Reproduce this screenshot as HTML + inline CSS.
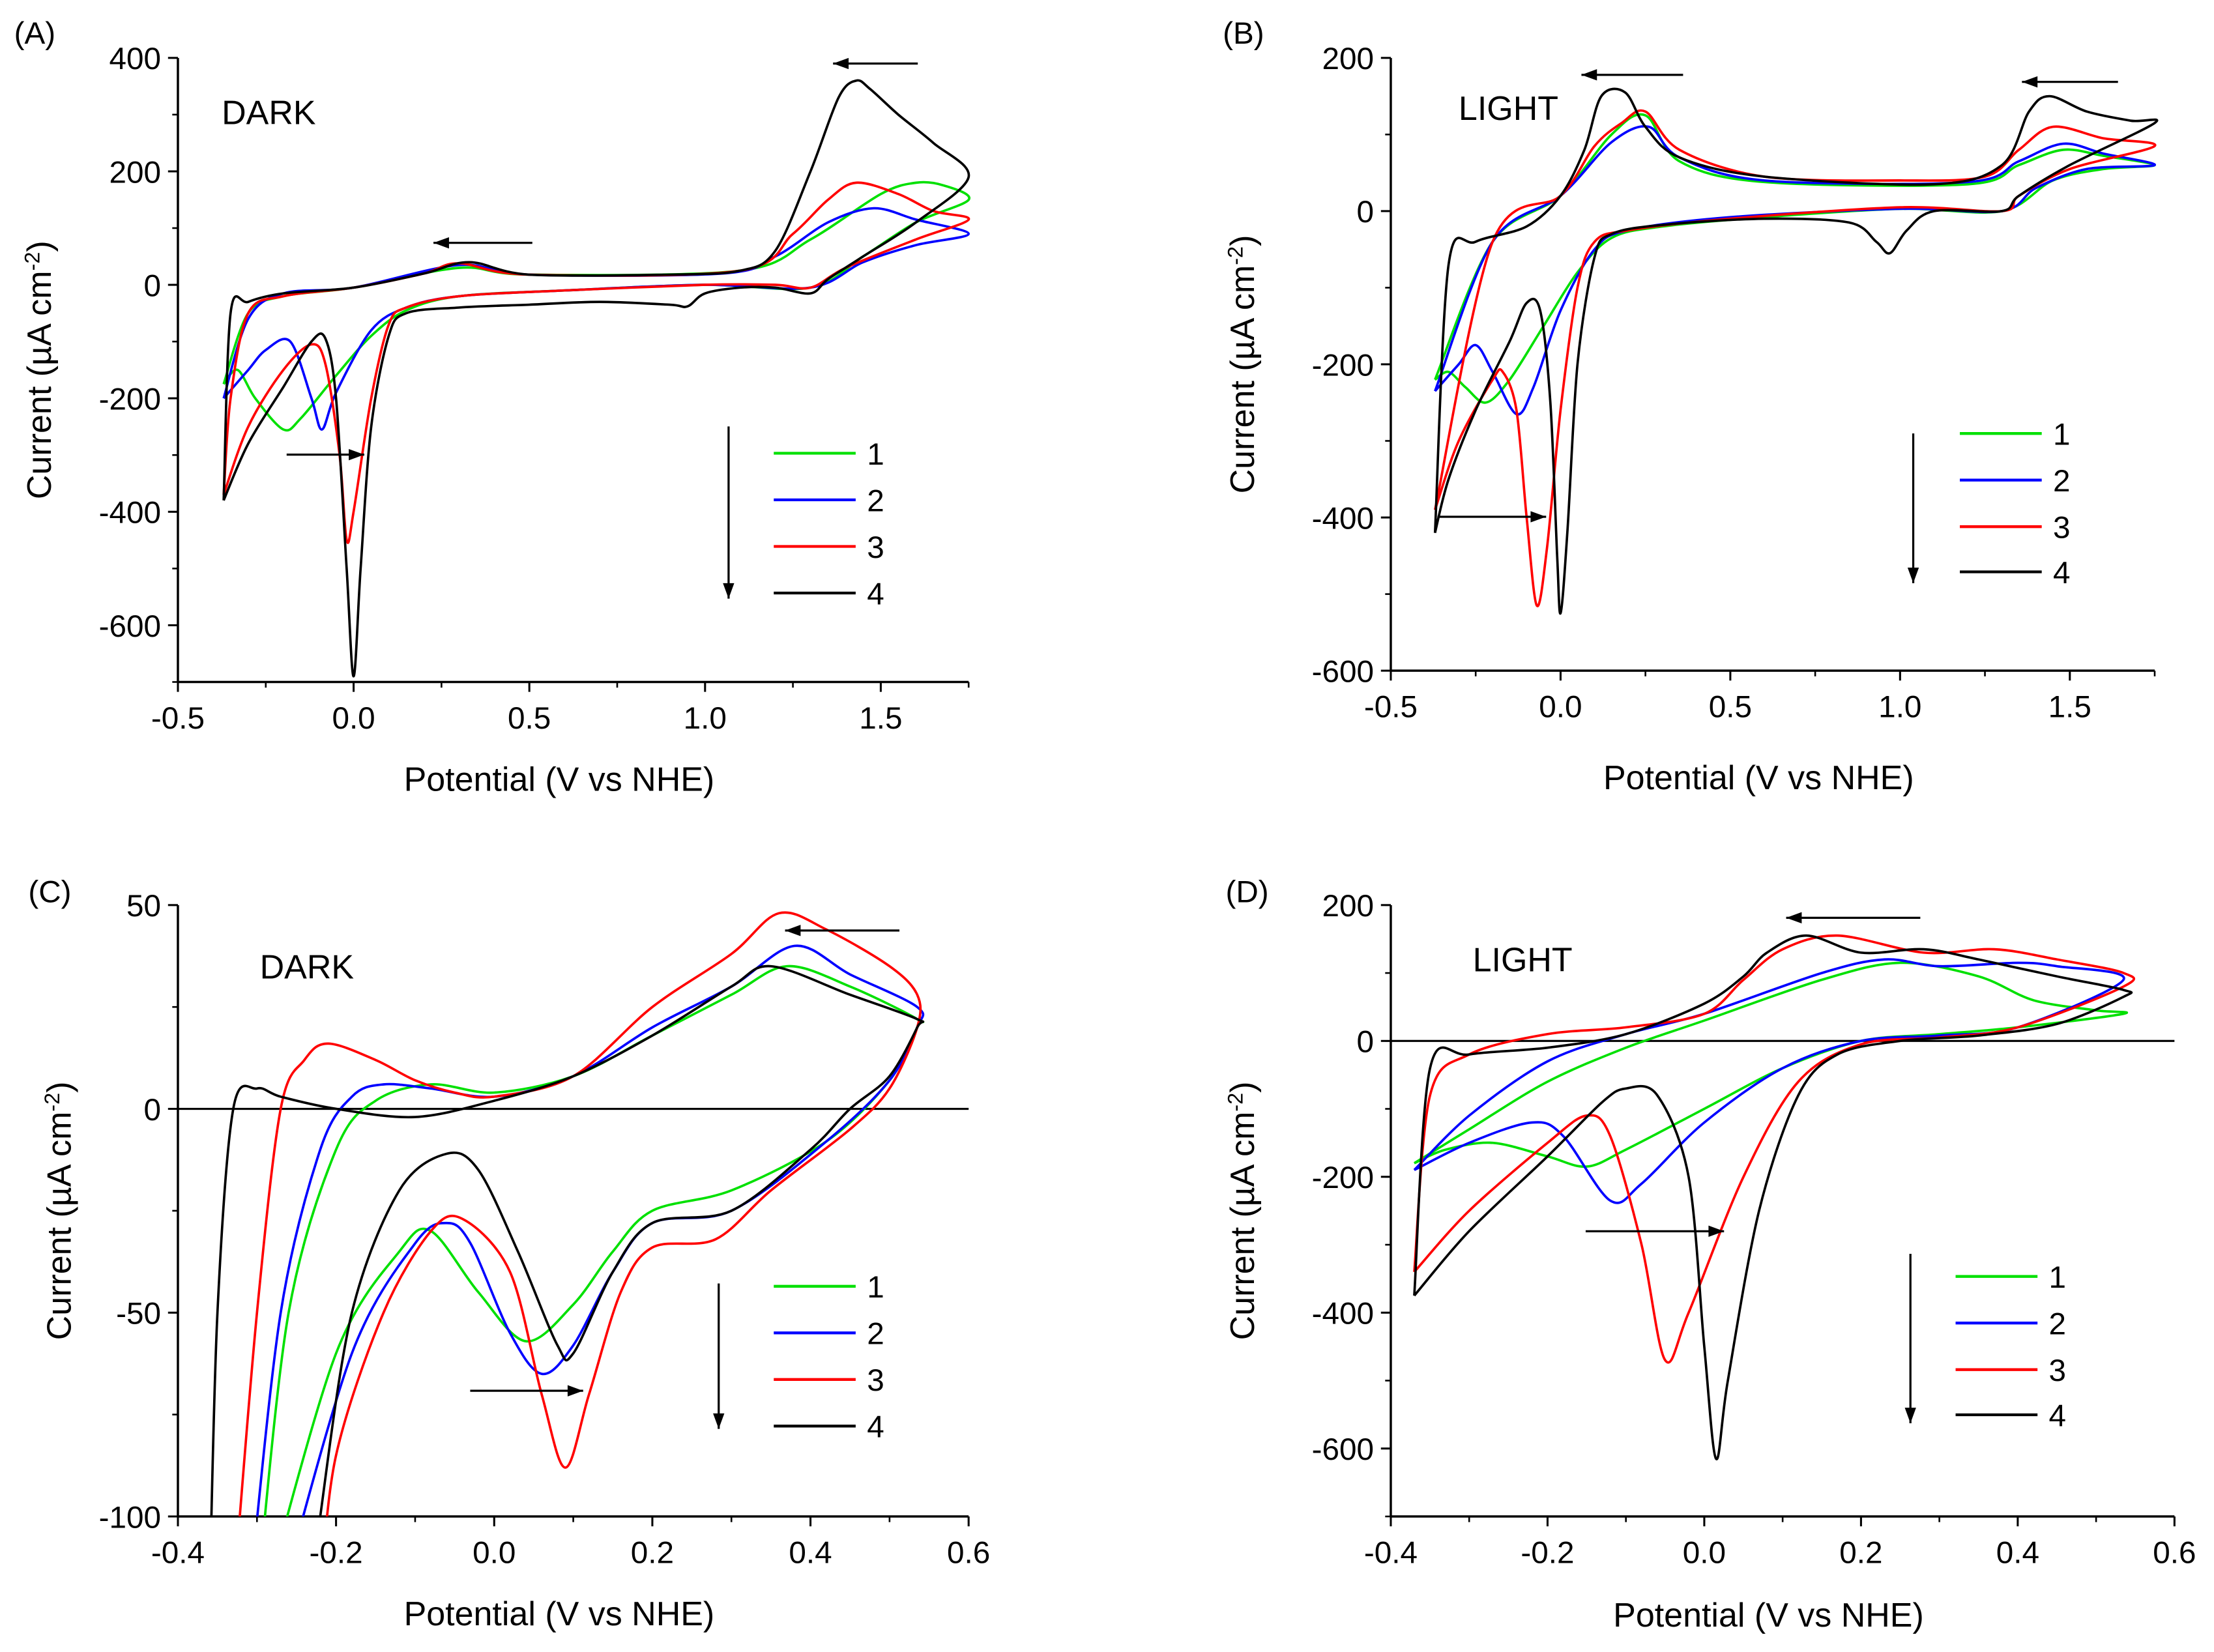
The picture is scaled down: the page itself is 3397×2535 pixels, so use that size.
<!DOCTYPE html>
<html><head><meta charset="utf-8"><style>
html,body{margin:0;padding:0;background:#fff;}
svg{display:block;}
text{font-family:"Liberation Sans",Arial,sans-serif;fill:#000;}
</style></head><body>
<svg id="fig" width="3397" height="2535" viewBox="0 0 1568 1170" preserveAspectRatio="none" xmlns="http://www.w3.org/2000/svg"></svg>
<script>
// ---- data (potential V, current µA cm^-2) ----
const seriesLabels = ["1","2","3","4"];
const seriesColors = ["#00e000","#0000ff","#ff0000","#000000"];

const aGreen = [[-0.37,-175],[-0.33,-150],[-0.28,-200],[-0.2,-255],[-0.15,-235],[-0.05,-160],[0.05,-90],[0.15,-45],[0.3,-20],[0.6,-10],[1.0,0],[1.3,-5],[1.45,50],[1.6,110],[1.75,150],[1.68,175],[1.6,180],[1.5,160],[1.3,80],[1.1,25],[0.5,18],[0.3,30],[0,-5],[-0.2,-20],[-0.3,-50],[-0.37,-175]];
const aBlue = [[-0.37,-200],[-0.3,-150],[-0.25,-115],[-0.18,-100],[-0.12,-200],[-0.09,-255],[-0.05,-190],[0.05,-80],[0.15,-40],[0.3,-20],[0.6,-10],[1.0,0],[1.3,-5],[1.45,40],[1.6,70],[1.75,90],[1.6,115],[1.48,135],[1.35,110],[1.2,50],[1.05,20],[0.5,18],[0.3,35],[0,-5],[-0.2,-15],[-0.3,-60],[-0.37,-200]];
const aRed = [[-0.37,-370],[-0.3,-250],[-0.2,-150],[-0.12,-105],[-0.08,-140],[-0.04,-300],[-0.02,-450],[0.0,-400],[0.05,-200],[0.1,-70],[0.15,-40],[0.3,-20],[0.6,-10],[1.0,0],[1.2,0],[1.3,-5],[1.4,30],[1.6,80],[1.75,115],[1.65,130],[1.55,160],[1.43,180],[1.35,150],[1.25,90],[1.1,25],[0.5,18],[0.3,38],[0.2,20],[0,-5],[-0.2,-20],[-0.3,-50],[-0.35,-200],[-0.37,-370]];
const aBlack = [[-0.37,-380],[-0.3,-280],[-0.2,-180],[-0.12,-100],[-0.08,-95],[-0.05,-200],[-0.02,-500],[0.0,-690],[0.02,-500],[0.05,-250],[0.1,-90],[0.15,-50],[0.3,-40],[0.5,-35],[0.7,-30],[0.9,-35],[0.95,-38],[1.0,-15],[1.1,-5],[1.2,-5],[1.3,-15],[1.35,10],[1.45,50],[1.6,110],[1.75,190],[1.65,250],[1.55,300],[1.47,345],[1.43,360],[1.38,330],[1.3,200],[1.2,60],[1.1,25],[0.9,18],[0.5,18],[0.33,40],[0.2,20],[0.0,-5],[-0.2,-15],[-0.3,-30],[-0.35,-50],[-0.37,-380]];

const bGreen = [[-0.37,-220],[-0.33,-210],[-0.28,-230],[-0.22,-250],[-0.15,-220],[-0.05,-150],[0.05,-80],[0.15,-35],[0.3,-20],[0.6,-8],[1.0,3],[1.3,0],[1.45,40],[1.6,55],[1.75,60],[1.6,72],[1.48,80],[1.35,60],[1.2,35],[0.6,38],[0.35,65],[0.25,125],[0.15,100],[0,20],[-0.2,-40],[-0.37,-220]];
const bBlue = [[-0.37,-235],[-0.3,-200],[-0.25,-175],[-0.2,-210],[-0.13,-265],[-0.08,-230],[0,-130],[0.1,-50],[0.2,-25],[0.5,-8],[1.0,3],[1.3,0],[1.4,30],[1.55,55],[1.75,60],[1.6,75],[1.48,88],[1.35,65],[1.2,38],[0.6,40],[0.35,70],[0.26,110],[0.15,90],[0,20],[-0.2,-40],[-0.37,-235]];
const bRed = [[-0.37,-390],[-0.3,-300],[-0.2,-220],[-0.17,-210],[-0.13,-260],[-0.1,-400],[-0.07,-515],[-0.04,-440],[0.0,-260],[0.05,-100],[0.1,-40],[0.2,-25],[0.5,-10],[1.0,5],[1.3,0],[1.35,20],[1.5,55],[1.75,85],[1.6,95],[1.45,110],[1.35,80],[1.25,45],[1.0,40],[0.6,45],[0.35,80],[0.25,130],[0.18,115],[0.1,85],[0,20],[-0.2,-40],[-0.37,-390]];
const bBlack = [[-0.37,-420],[-0.33,-350],[-0.25,-260],[-0.15,-170],[-0.1,-120],[-0.06,-130],[-0.03,-250],[-0.01,-450],[0.0,-525],[0.02,-420],[0.05,-200],[0.1,-60],[0.15,-30],[0.3,-18],[0.6,-10],[0.85,-15],[0.93,-40],[0.97,-55],[1.02,-25],[1.1,0],[1.3,0],[1.35,20],[1.5,60],[1.75,115],[1.68,118],[1.55,130],[1.44,150],[1.38,130],[1.3,60],[1.1,35],[0.6,45],[0.35,70],[0.25,110],[0.19,155],[0.12,150],[0.07,80],[0.0,20],[-0.1,-20],[-0.25,-40],[-0.33,-70],[-0.37,-420]];

const cGreen = [[-0.3,-120],[-0.26,-50],[-0.2,-10],[-0.15,2],[-0.08,6],[0,4],[0.1,8],[0.2,18],[0.3,28],[0.37,35],[0.45,30],[0.535,22],[0.535,20],[0.5,7],[0.42,-8],[0.3,-20],[0.2,-25],[0.15,-35],[0.1,-48],[0.04,-57],[-0.02,-45],[-0.08,-30],[-0.12,-35],[-0.2,-60],[-0.29,-120]];
const cBlue = [[-0.31,-120],[-0.27,-50],[-0.22,-10],[-0.18,3],[-0.14,6],[-0.08,5],[0,3],[0.1,8],[0.2,20],[0.3,30],[0.38,40],[0.45,33],[0.535,25],[0.535,20],[0.5,7],[0.42,-8],[0.3,-25],[0.2,-28],[0.15,-40],[0.1,-58],[0.06,-65],[0.02,-55],[-0.03,-33],[-0.06,-28],[-0.1,-33],[-0.18,-60],[-0.27,-120]];
const cRed = [[-0.33,-120],[-0.3,-50],[-0.27,0],[-0.24,12],[-0.21,16],[-0.15,12],[-0.1,7],[-0.05,4],[0,3],[0.1,8],[0.2,25],[0.3,38],[0.36,48],[0.42,44],[0.5,35],[0.535,28],[0.535,20],[0.5,5],[0.45,-5],[0.35,-20],[0.28,-32],[0.2,-34],[0.16,-45],[0.12,-70],[0.09,-88],[0.06,-70],[0.02,-40],[-0.04,-27],[-0.08,-30],[-0.14,-50],[-0.2,-85],[-0.22,-120]];
const cBlack = [[-0.36,-120],[-0.35,-50],[-0.33,0],[-0.3,5],[-0.27,3],[-0.2,0],[-0.1,-2],[0,2],[0.1,8],[0.2,18],[0.3,30],[0.35,35],[0.45,28],[0.535,22],[0.535,20],[0.5,8],[0.45,0],[0.4,-10],[0.3,-25],[0.2,-28],[0.15,-40],[0.1,-60],[0.08,-58],[0.03,-35],[-0.02,-15],[-0.06,-11],[-0.12,-20],[-0.18,-50],[-0.22,-100],[-0.23,-120]];

const dGreen = [[-0.37,-180],[-0.33,-160],[-0.27,-150],[-0.2,-170],[-0.15,-185],[-0.1,-160],[0,-100],[0.1,-40],[0.2,0],[0.3,10],[0.4,20],[0.535,40],[0.5,45],[0.42,60],[0.35,95],[0.25,115],[0.15,90],[0,30],[-0.1,-10],[-0.2,-60],[-0.3,-130],[-0.37,-180]];
const dBlue = [[-0.37,-190],[-0.3,-150],[-0.22,-120],[-0.18,-140],[-0.12,-235],[-0.08,-210],[0,-120],[0.1,-40],[0.2,0],[0.3,8],[0.4,20],[0.535,90],[0.45,110],[0.4,115],[0.3,110],[0.23,120],[0.15,100],[0,40],[-0.1,10],[-0.2,-30],[-0.3,-110],[-0.37,-190]];
const dRed = [[-0.37,-340],[-0.3,-250],[-0.2,-150],[-0.15,-110],[-0.12,-140],[-0.08,-300],[-0.05,-470],[-0.02,-400],[0.05,-200],[0.12,-60],[0.2,-5],[0.3,5],[0.4,20],[0.535,80],[0.535,100],[0.45,120],[0.37,135],[0.28,130],[0.17,155],[0.1,135],[0.05,90],[0,40],[-0.1,20],[-0.2,10],[-0.3,-20],[-0.35,-80],[-0.37,-340]];
const dBlack = [[-0.37,-375],[-0.3,-280],[-0.2,-170],[-0.13,-90],[-0.1,-70],[-0.06,-80],[-0.02,-200],[0,-450],[0.015,-615],[0.03,-500],[0.07,-250],[0.12,-80],[0.17,-20],[0.25,0],[0.35,8],[0.45,25],[0.535,65],[0.535,75],[0.45,95],[0.35,120],[0.28,135],[0.2,130],[0.13,155],[0.08,130],[0.05,95],[0,55],[-0.1,10],[-0.2,-10],[-0.3,-20],[-0.35,-40],[-0.37,-375]];

const aXTicks = [-0.5,0.0,0.5,1.0,1.5];
const aYTicks = [-600,-400,-200,0,200,400];
const bXTicks = [-0.5,0.0,0.5,1.0,1.5];
const bYTicks = [-600,-400,-200,0,200];
const cXTicks = [-0.4,-0.2,0.0,0.2,0.4,0.6];
const cYTicks = [-100,-50,0,50];
const dXTicks = [-0.4,-0.2,0.0,0.2,0.4,0.6];
const dYTicks = [-600,-400,-200,0,200];

const NS="http://www.w3.org/2000/svg";
const svg=document.getElementById('fig');
function mk(tag,attrs,parent){const e=document.createElementNS(NS,tag);for(const k in attrs)e.setAttribute(k,attrs[k]);(parent||svg).appendChild(e);return e;}
function fmtX(v,d){return v.toFixed(d);}
function smooth(pts){
  let d='M'+pts[0][0].toFixed(1)+' '+pts[0][1].toFixed(1);
  for(let i=0;i<pts.length-1;i++){
    const p0=pts[Math.max(i-1,0)],p1=pts[i],p2=pts[i+1],p3=pts[Math.min(i+2,pts.length-1)];
    const t=0.16;
    const c1=[p1[0]+(p2[0]-p0[0])*t,p1[1]+(p2[1]-p0[1])*t];
    const c2=[p2[0]-(p3[0]-p1[0])*t,p2[1]-(p3[1]-p1[1])*t];
    d+=` C${c1[0].toFixed(1)} ${c1[1].toFixed(1)} ${c2[0].toFixed(1)} ${c2[1].toFixed(1)} ${p2[0].toFixed(1)} ${p2[1].toFixed(1)}`;
  }
  return d;
}

function panel(cfg){
  const g=mk('g',{});
  
  
  const sx=v=>cfg.px0+(v-cfg.x0)/(cfg.x1-cfg.x0)*(cfg.px1-cfg.px0);
  const sy=v=>cfg.py0+(cfg.y1-v)/(cfg.y1-cfg.y0)*(cfg.py1-cfg.py0);
  const clip=mk('clipPath',{id:'clip'+cfg.id},g);
  mk('rect',{x:cfg.px0,y:cfg.py0-10,width:cfg.px1-cfg.px0+5,height:cfg.py1-cfg.py0+10},clip);
  const ya=mk('line',{x1:cfg.px0,y1:cfg.py0,x2:cfg.px0,y2:cfg.py1,stroke:'#000','stroke-width':1.6},g);
  
  const xa=mk('line',{x1:cfg.px0,y1:cfg.py1,x2:cfg.px1,y2:cfg.py1,stroke:'#000','stroke-width':1.6},g);
  
  if(cfg.zero){const z=mk('line',{x1:cfg.px0,y1:sy(0),x2:cfg.px1,y2:sy(0),stroke:'#000','stroke-width':1.4},g);
    }
  for(let v=cfg.x0;v<=cfg.x1+1e-9;v+=cfg.xminor){mk('line',{x1:sx(v),y1:cfg.py1,x2:sx(v),y2:cfg.py1+4,stroke:'#000','stroke-width':1.2},g);}
  for(let v=cfg.y0;v<=cfg.y1+1e-9;v+=cfg.yminor){mk('line',{x1:cfg.px0,y1:sy(v),x2:cfg.px0-4,y2:sy(v),stroke:'#000','stroke-width':1.2},g);}
  cfg.xt.forEach(v=>{mk('line',{x1:sx(v),y1:cfg.py1,x2:sx(v),y2:cfg.py1+7,stroke:'#000','stroke-width':1.4},g);
    const t=mk('text',{x:sx(v),y:cfg.py1+33,'text-anchor':'middle','font-size':22},g);t.textContent=fmtX(v,1);
    });
  cfg.yt.forEach(v=>{mk('line',{x1:cfg.px0,y1:sy(v),x2:cfg.px0-7,y2:sy(v),stroke:'#000','stroke-width':1.4},g);
    const t=mk('text',{x:cfg.px0-12,y:sy(v)+8,'text-anchor':'end','font-size':22},g);t.textContent=String(v);
    });
  const xt=mk('text',{x:(cfg.px0+cfg.px1)/2-10,y:cfg.py1+cfg.xto,'text-anchor':'middle','font-size':24},g);xt.textContent='Potential (V vs NHE)';
  
  const yy=(cfg.py0+cfg.py1)/2;
  const yt=mk('text',{x:cfg.ytx,y:yy,'text-anchor':'middle','font-size':24,transform:`rotate(-90 ${cfg.ytx} ${yy})`},g);
  yt.innerHTML='Current (µA cm<tspan dy="-8" font-size="15">-2</tspan><tspan dy="8">)</tspan>';
  
  const lt=mk('text',{x:cfg.letter[0],y:cfg.letter[1],'font-size':22},g);lt.textContent=cfg.letter[2];
  
  const cl=mk('text',{x:cfg.cond[0],y:cfg.cond[1],'font-size':24},g);cl.textContent=cfg.cond[2];
  
  cfg.series.forEach((s,i)=>{
    const d=smooth(s.map(p=>[sx(p[0]),sy(p[1])]));
    const p=mk('path',{d:d,fill:'none',stroke:seriesColors[i],'stroke-width':1.7,'stroke-linejoin':'round','clip-path':`url(#clip${cfg.id})`},g);
    
    
  });
  cfg.leg.forEach((y,i)=>{
    const l=mk('line',{x1:cfg.legx,y1:y,x2:cfg.legx+58,y2:y,stroke:seriesColors[i],'stroke-width':2},g);
    
    const t=mk('text',{x:cfg.legx+66,y:y+8,'font-size':22},g);t.textContent=seriesLabels[i];
    
  });
  cfg.arrows.forEach(a=>{
    const [x1,y1,x2,y2]=a;
    const ag=mk('g',{},g);
    mk('line',{x1,y1,x2,y2,stroke:'#000','stroke-width':1.5},ag);
    const ang=Math.atan2(y2-y1,x2-x1),L=11,W=4;
    const bx=x2-L*Math.cos(ang),by=y2-L*Math.sin(ang);
    mk('polygon',{points:`${x2},${y2} ${bx-W*Math.sin(ang)},${by+W*Math.cos(ang)} ${bx+W*Math.sin(ang)},${by-W*Math.cos(ang)}`,fill:'#000'},ag);
  });
}

panel({id:'a',x0:-0.5,x1:1.75,y0:-700,y1:400,px0:126,px1:686,py0:41,py1:483,xminor:0.25,yminor:100,xt:aXTicks,yt:aYTicks,xto:77,
  ytx:36,letter:[10,31,'(A)'],cond:[157,88,'DARK'],series:[aGreen,aBlue,aRed,aBlack],legx:548,leg:[321,354,387,420],
  arrows:[[650,45,590,45],[377,172,307,172],[203,322,258,322],[516,302,516,424]]});
panel({id:'b',x0:-0.5,x1:1.75,y0:-600,y1:200,px0:985,px1:1526,py0:41,py1:475,xminor:0.25,yminor:100,xt:bXTicks,yt:bYTicks,xto:84,
  ytx:888,letter:[866,31,'(B)'],cond:[1033,85,'LIGHT'],series:[bGreen,bBlue,bRed,bBlack],legx:1388,leg:[307,340,373,405],
  arrows:[[1192,53,1120,53],[1500,58,1432,58],[1018,366,1095,366],[1355,307,1355,413]]});
panel({id:'c',x0:-0.4,x1:0.6,y0:-100,y1:50,px0:126,px1:686,py0:641,py1:1074,xminor:0.1,yminor:25,xt:cXTicks,yt:cYTicks,zero:true,xto:77,
  ytx:50,letter:[20,639,'(C)'],cond:[184,693,'DARK'],series:[cGreen,cBlue,cRed,cBlack],legx:548,leg:[911,944,977,1010],
  arrows:[[637,659,556,659],[333,985,413,985],[509,909,509,1012]]});
panel({id:'d',x0:-0.4,x1:0.6,y0:-700,y1:200,px0:985,px1:1540,py0:641,py1:1074,xminor:0.1,yminor:100,xt:dXTicks,yt:dYTicks,zero:true,xto:78,
  ytx:888,letter:[868,639,'(D)'],cond:[1043,688,'LIGHT'],series:[dGreen,dBlue,dRed,dBlack],legx:1385,leg:[904,937,970,1002],
  arrows:[[1360,650,1265,650],[1123,872,1221,872],[1353,888,1353,1008]]});
</script>
</body></html>
